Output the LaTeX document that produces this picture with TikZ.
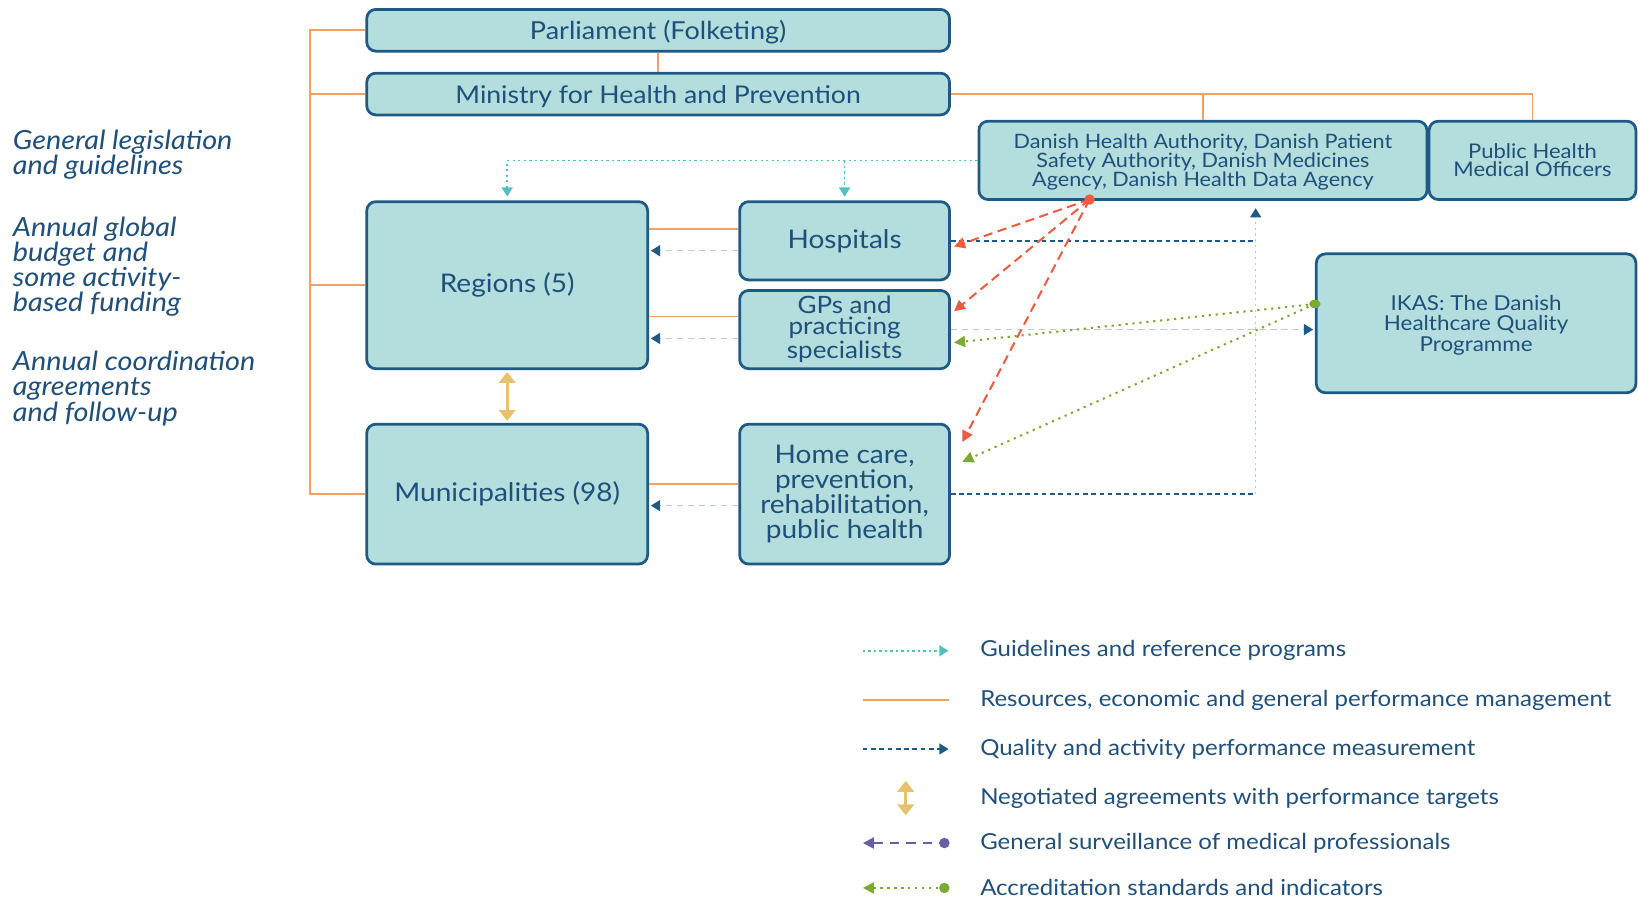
\documentclass[tikz,border=0pt]{standalone}
\usepackage{fontspec}
\setmainfont{Lato}[FakeStretch=1.09]
\usetikzlibrary{arrows.meta}

\definecolor{boxfill}{HTML}{B3DEDD}
\definecolor{boxline}{HTML}{1E5A85}
\definecolor{txtblue}{HTML}{1F4F7A}
\definecolor{resorange}{HTML}{F4A062}
\definecolor{guideteal}{HTML}{4FC1C0}
\definecolor{qualblue}{HTML}{1E5A85}
\definecolor{qualpale}{HTML}{B5CBE0}
\definecolor{survred}{HTML}{EE5B40}
\definecolor{survpurple}{HTML}{6B5CA5}
\definecolor{accgreen}{HTML}{7CA834}
\definecolor{negyellow}{HTML}{E8C16C}

\tikzset{
  box/.style={draw=boxline, fill=boxfill, line width=1.5pt, rounded corners=5pt,
    text=txtblue, align=center, inner sep=1pt},
  res/.style={draw=resorange, line width=1pt},
  guide/.style={draw=guideteal, line width=0.8pt, dash pattern=on 1.2pt off 1.8pt,
    -{Triangle[length=5pt,width=6pt]}},
  qualdash/.style={draw=qualblue, line width=0.8pt, dash pattern=on 2.5pt off 2pt},
  qualback/.style={draw=qualpale, line width=0.8pt, dash pattern=on 3.5pt off 2.5pt,
    -{Triangle[length=5pt,width=6pt,color=qualblue]}},
  qualup/.style={draw=qualpale, line width=0.8pt, dash pattern=on 1.2pt off 2pt,
    -{Triangle[length=5pt,width=6pt,color=qualblue]}},
  surv/.style={draw=survred, line width=1.1pt, dash pattern=on 5pt off 3pt,
    -{Triangle[length=6pt,width=6pt]}},
  accr/.style={draw=accgreen, line width=1.1pt, dash pattern=on 1.2pt off 2.6pt,
    -{Triangle[length=6pt,width=6pt]}},
  nego/.style={draw=negyellow, line width=1.8pt,
    {Triangle[length=6pt,width=9pt]}-{Triangle[length=6pt,width=9pt]}},
  sidetext/.style={anchor=north west, inner sep=0pt, align=left, text=txtblue,
    font=\fontsize{14.4}{13.7}\selectfont\itshape},
  legtext/.style={anchor=west, inner sep=0pt, text=txtblue,
    font=\fontsize{12}{14}\selectfont},
}

\begin{document}
\begin{tikzpicture}[x=0.02cm, y=-0.02cm]
\useasboundingbox (0,0) rectangle (1568,862);

% boxes
\node[box, minimum width=11.16cm, minimum height=0.8cm, text depth=0pt, font=\fontsize{13.5}{15}\selectfont] (parl) at (630,29) {Parliament (Folketing)};
\node[box, minimum width=11.16cm, minimum height=0.8cm, text depth=0pt, font=\fontsize{13.3}{15}\selectfont] (min) at (630,90) {Ministry for Health and Prevention};
\node[box, minimum width=8.58cm, minimum height=1.5cm, text depth=0pt, font=\fontsize{10.8}{10.3}\selectfont] (dha) at (1151.5,153.5) {Danish Health Authority, Danish Patient\\Safety Authority, Danish Medicines\\Agency, Danish Health Data Agency};
\node[box, minimum width=3.96cm, minimum height=1.5cm, font=\fontsize{11}{10}\selectfont] (phmo) at (1467,153.5) {Public Health\\Medical Officers};
\node[box, minimum width=5.38cm, minimum height=3.2cm, font=\fontsize{14}{15}\selectfont] (reg) at (485.5,273) {Regions (5)};
\node[box, minimum width=4.02cm, minimum height=1.5cm, font=\fontsize{14}{15}\selectfont] (hosp) at (808.5,230.5) {Hospitals};
\node[box, minimum width=4.02cm, minimum height=1.5cm, font=\fontsize{13}{11.4}\selectfont] (gps) at (808.5,315.5) {GPs and\\practicing\\specialists};
\node[box, minimum width=5.38cm, minimum height=2.68cm, font=\fontsize{14}{15}\selectfont] (mun) at (485.5,473) {Municipalities (98)};
\node[box, minimum width=4.02cm, minimum height=2.68cm, font=\fontsize{14}{13.7}\selectfont] (home) at (808.5,473) {Home care,\\prevention,\\rehabilitation,\\public health};
\node[box, minimum width=6.12cm, minimum height=2.66cm, text depth=0pt, font=\fontsize{11.2}{11}\selectfont] (ikas) at (1413,309.5) {IKAS: The Danish\\Healthcare Quality\\Programme};

% side texts
\node[sidetext] (lawtxt) at (12,124) {General legislation\\and guidelines};
\node[sidetext] (budtxt) at (12,207) {Annual global\\budget and\\some activity-\\based funding};
\node[sidetext] (cootxt) at (12,336) {Annual coordination\\agreements\\and follow-up};

% resources
\coordinate (spT) at (297,29);
\coordinate (spB) at (297,473);
\draw[res] (parl.west) -- (spT) -- (spB) -- (mun.west);
\draw[res] (min.west) -- (min.west -| spT);
\draw[res] (reg.west) -- (reg.west -| spT);
\draw[res] (parl.south) -- (min.north);
\draw[res] (min.east) -- (min.east -| phmo.north) -- (phmo.north);
\draw[res] (min.east -| dha.north) -- (dha.north);
\coordinate (hospR) at ([yshift=0.23cm]hosp.west);
\coordinate (gpsR) at ([yshift=0.25cm]gps.west);
\coordinate (homeR) at ([yshift=0.2cm]home.west);
\draw[res] (hospR) -- (hospR -| reg.east);
\draw[res] (gpsR) -- (gpsR -| reg.east);
\draw[res] (homeR) -- (homeR -| mun.east);

% guidelines
\draw[guide] (dha.west) -- (dha.west -| reg.north) -- ([yshift=2pt]reg.north);
\draw[guide] (dha.west -| hosp.north) -- ([yshift=2pt]hosp.north);

% quality measurement
\coordinate (hospQ) at ([yshift=-0.19cm]hosp.west);
\coordinate (gpsQ) at ([yshift=-0.17cm]gps.west);
\coordinate (homeQ) at ([yshift=-0.22cm]home.west);
\draw[qualback] (hospQ) -- ([xshift=1pt]hospQ -| reg.east);
\draw[qualback] (gpsQ) -- ([xshift=1pt]gpsQ -| reg.east);
\draw[qualback] (homeQ) -- ([xshift=1pt]homeQ -| mun.east);
\coordinate (qv) at (1202,472);
\draw[qualdash] (hosp.east) -- (hosp.east -| qv);
\draw[qualdash] (home.east) -- (home.east -| qv);
\draw[qualup] (home.east -| qv) -- ([yshift=-0.14cm]qv |- dha.south);
\draw[qualback] (gps.east) -- ([xshift=-1pt]gps.east -| ikas.west);

% surveillance
\coordinate (svsrc) at (1043,191);
\draw[surv] (svsrc) -- ([shift={(0.06cm,-0.11cm)}]hosp.east);
\draw[surv] (svsrc) -- ([shift={(0.06cm,0.35cm)}]gps.east);
\draw[surv] (svsrc) -- ([shift={(0.22cm,1.0cm)}]home.east);
\fill[survred] (svsrc) circle (0.1cm);

% accreditation
\coordinate (accsrc) at ([yshift=0.37cm]ikas.west);
\draw[accr] (accsrc) -- ([shift={(0.06cm,-0.25cm)}]gps.east);
\draw[accr] (accsrc) -- ([shift={(0.22cm,0.62cm)}]home.east);
\fill[accgreen] (accsrc) ellipse (0.11cm and 0.08cm);

% negotiated
\draw[nego] ([yshift=-1pt]reg.south) -- ([yshift=1pt]mun.north);

% legend
\node[legtext] (lg1) at (938,623) {Guidelines and reference programs};
\node[legtext] (lg2) at (938,670) {Resources, economic and general performance management};
\node[legtext] (lg3) at (938,717) {Quality and activity performance measurement};
\node[legtext] (lg4) at (938,764) {Negotiated agreements with performance targets};
\node[legtext] (lg5) at (938,807) {General surveillance of medical professionals};
\node[legtext] (lg6) at (938,850) {Accreditation standards and indicators};
\draw[guide] ([xshift=-2.24cm]lg1.west) -- ([xshift=-0.6cm]lg1.west);
\draw[res, line width=1.2pt] ([xshift=-2.24cm]lg2.west) -- ([xshift=-0.6cm]lg2.west);
\draw[qualdash, -{Triangle[length=5pt,width=6pt]}] ([xshift=-2.24cm]lg3.west) -- ([xshift=-0.6cm]lg3.west);
\draw[nego] ([shift={(-1.42cm,0.33cm)}]lg4.west) -- ([shift={(-1.42cm,-0.33cm)}]lg4.west);
\draw[survpurple, line width=1.1pt, dash pattern=on 5pt off 4pt, {Triangle[length=6pt,width=6pt]}-] ([xshift=-2.24cm]lg5.west) -- ([xshift=-0.68cm]lg5.west);
\fill[survpurple] ([xshift=-0.68cm]lg5.west) circle (0.1cm);
\draw[accr, {Triangle[length=6pt,width=6pt]}-] ([xshift=-2.24cm]lg6.west) -- ([xshift=-0.68cm]lg6.west);
\fill[accgreen] ([xshift=-0.68cm]lg6.west) circle (0.1cm);
\end{tikzpicture}
\end{document}
